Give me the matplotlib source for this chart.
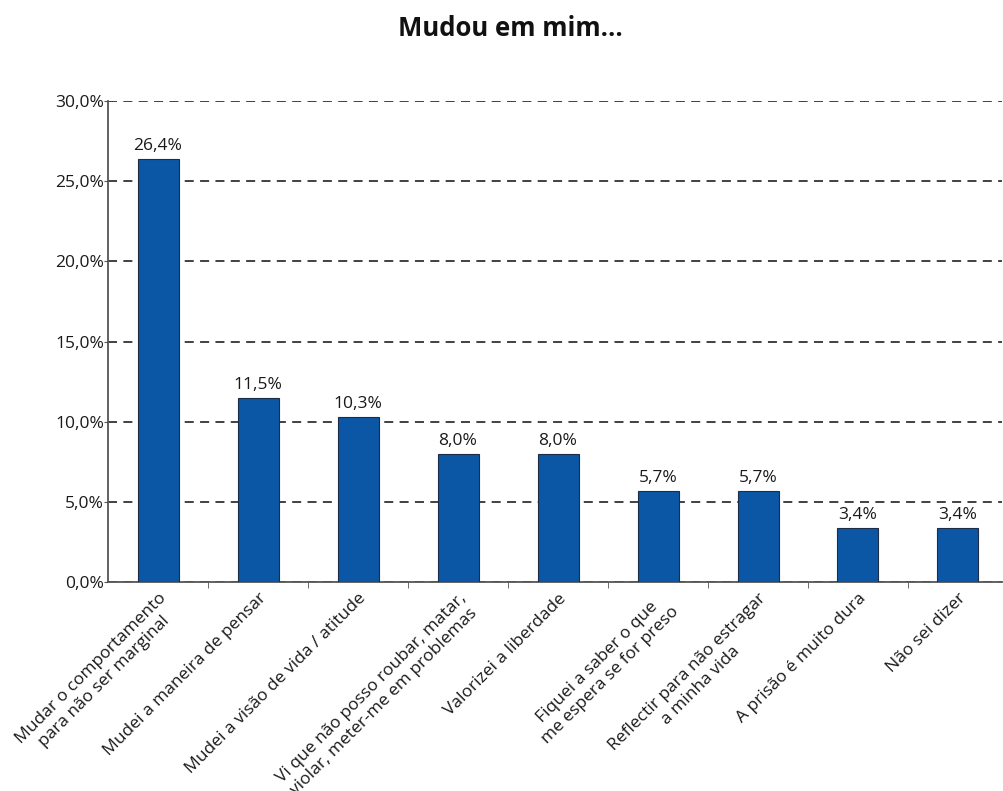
import matplotlib.pyplot as plt

categorias = [
    "Mudar o comportamento\npara não ser marginal",
    "Mudei a maneira de pensar",
    "Mudei a visão de vida / atitude",
    "Vi que não posso roubar, matar,\nviolar, meter-me em problemas",
    "Valorizei a liberdade",
    "Fiquei a saber o que\nme espera se for preso",
    "Reflectir para não estragar\na minha vida",
    "A prisão é muito dura",
    "Não sei dizer",
]
valores = [26.4, 11.5, 10.3, 8.0, 8.0, 5.7, 5.7, 3.4, 3.4]
yticks = [0, 5, 10, 15, 20, 25, 30]

plt.rcParams['font.family'] = ['Open Sans', 'DejaVu Sans']

fig = plt.figure(figsize=(10.04, 7.91), dpi=100)
ax = fig.add_axes([0.1076, 0.2642, 0.8904, 0.6081])

x = range(len(valores))
bars = ax.bar(x, valores, width=0.41, color='#0b57a5', edgecolor='#1c2d48', linewidth=0.8, zorder=3)

for b, v in zip(bars, valores):
    ax.text(b.get_x() + b.get_width() / 2, v + 0.3, f"{v:.1f}%".replace('.', ','),
            ha='center', va='bottom', fontsize=12.5, color='#1a1a1a')

ax.set_ylim(0, 30)
ax.set_xlim(-0.5, 8.44)
ax.set_yticks(yticks)
ax.set_yticklabels([f"{t:.1f}%".replace('.', ',') for t in yticks], fontsize=12.5, color='#1a1a1a')
ax.yaxis.grid(True, linestyle=(0, (5, 3.5)), color='#333333', linewidth=1.3, zorder=0)
ax.tick_params(axis='y', length=3, pad=0, color='#555555')

ax.set_xticks(list(x))
ax.set_xticklabels(categorias, rotation=45, ha='right', rotation_mode='anchor',
                   fontsize=12.5, color='#1a1a1a', multialignment='center')
ax.tick_params(axis='x', length=0, pad=6)
ax.set_xticks([i + 0.5 for i in range(len(valores) - 1)], minor=True)
ax.tick_params(axis='x', which='minor', length=4, color='#555555', direction='out')

for s in ['top', 'right']:
    ax.spines[s].set_visible(False)
for s in ['left', 'bottom']:
    ax.spines[s].set_color('#555555')
    ax.spines[s].set_linewidth(1.3)

fig.text(0.508, 0.964, "Mudou em mim…", ha='center', va='center', fontsize=18.5, fontweight='bold', color='#111111')

fig.savefig('out.png', dpi=100)
